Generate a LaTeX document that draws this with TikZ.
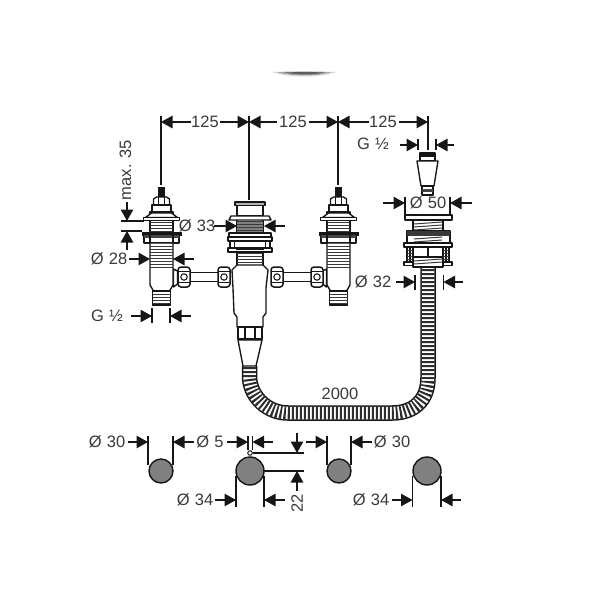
\documentclass[tikz,border=0pt]{standalone}
\usepackage{fontspec}
\setmainfont{Liberation Sans}
\usetikzlibrary{arrows.meta}
\definecolor{ink}{HTML}{161616}
\definecolor{label}{HTML}{3A3A3A}
\definecolor{disc}{HTML}{808080}
\tikzset{
  dim/.style={line width=1.05pt,draw=ink,-{Triangle[length=11.5pt,width=12.5pt]}},
  ext/.style={line width=1.05pt,draw=ink},
  lbl/.style={text=label,font=\fontsize{16.5}{16.5}\selectfont,inner sep=0pt},
  part/.style={line width=1.35pt,draw=ink,fill=white,line join=round},
  rib/.style={line width=1pt,draw=ink!85},
  blk/.style={line width=.8pt,draw=ink,fill=ink},
  plug/.style={line width=1.4pt,draw=ink,fill=disc},
}
\newcommand\dimar[3]{\coordinate (#1a) at (#2);\coordinate (#1b) at (#3);\draw[dim] (#1a) -- (#1b);}
\newcommand\extl[3]{\coordinate (#1a) at (#2);\coordinate (#1b) at (#3);\draw[ext] (#1a) -- (#1b);}
\newcommand\ribs[5]{\foreach \yy in {#3,#4,...,#5}{\draw[rib] (#1,\yy) -- (#2,\yy);}}
\newcommand\dia[1]{Ø\hspace{.32em}#1}
% one side valve, centred on x=0, with y absolute; tube stub toward +x
\newcommand\sidevalve{%
  \fill[ink] (-3.5,187) rectangle (3.5,197);
  \draw[part] (-8,205) -- (-8,199) -- (-5,197) -- (5,197) -- (8,199) -- (8,205) -- cycle;
  \draw[ext] (-3,197) -- (-3,205) (3,197) -- (3,205);
  \draw[part] (-9.5,205) rectangle (9.5,212);
  \draw[part] (-11.5,212) rectangle (11.5,232);
  \ribs{-11.5}{11.5}{222}{225}{231}
  \draw[part] (-16,217.5) -- (-10,213) -- (10,213) -- (16,217.5) -- cycle;
  \draw[part] (-18,217.5) rectangle (18,220.5);
  \draw[blk] (-19.5,232) rectangle (19.5,235);
  \draw[part] (-17.5,235) rectangle (17.5,243);
  \fill[ink!80] (-17.5,235) rectangle (17.5,237.5);
  \draw[ext] (-11.5,235) -- (-11.5,243) (11.5,235) -- (11.5,243);
  \draw[part] (12,269) -- (16,271) -- (16,284) -- (12,287) -- cycle;
  \draw[part] (-11.5,243) -- (-11.5,285) -- (-8,291) -- (8,291) -- (11.5,285) -- (11.5,243) -- cycle;
  \ribs{-11.5}{11.5}{246}{249}{267}
  \draw[part] (-9,291) rectangle (9,305);
  \ribs{-9}{9}{294}{297}{303}
}
% hex union nut
\newcommand\unionnut[1]{%
  \draw[part,line width=1.5pt,rounded corners=3pt] (#1-6,267) rectangle (#1+6,287);
  \draw[ext] (#1-6,271.5) -- (#1+6,271.5) (#1-6,282.5) -- (#1+6,282.5);
  \draw[ext] (#1,277) circle (3.2);
}
\begin{document}
\begin{tikzpicture}[x=1pt,y=-1pt]
\useasboundingbox (0,0) rectangle (600,600);
\fill[white] (0,0) rectangle (600,600);

% blurred smudge at the top
\fill[gray!30] (272,72) .. controls (295,71) and (315,71) .. (336,72) .. controls (320,78) and (290,78) .. (272,72) -- cycle;
\fill[gray!70] (277,72.3) .. controls (295,71.5) and (315,71.5) .. (331,72.3) .. controls (318,76.5) and (292,76.5) .. (277,72.3) -- cycle;
\fill[ink!70] (285,72.5) .. controls (295,72) and (315,72) .. (324,72.5) .. controls (315,75) and (295,75) .. (285,72.5) -- cycle;

% hose
\coordinate (hoseA) at (428,265);
\coordinate (hoseB) at (249.5,366);
\def\hosepath{(hoseA) -- (428,378) .. controls (428,400) and (414,413) .. (392,413) -- (288,413) .. controls (268,413) and (251,398) .. (249.5,378) -- (hoseB)}
\draw[ink,line width=15.5pt] \hosepath;
\draw[white,line width=12.5pt] \hosepath;
\draw[ink!90,line width=13pt,dash pattern=on 2pt off 2pt] \hosepath;

% connecting pipes
\draw[part] (188,272.5) rectangle (220,281.5);
\draw[part] (280,272.5) rectangle (314,281.5);

% left and right valves
\begin{scope}[shift={(161.5,0)}]\sidevalve\end{scope}
\begin{scope}[shift={(338.5,0)},xscale=-1]\sidevalve\end{scope}

% centre valve
\draw[part] (237,250) rectangle (263,266);
\ribs{237}{263}{253}{256}{265}
\draw[part] (237,265) -- (232,270) -- (233,288) -- (234,313) -- (237,317) -- (237,327) -- (263,327) -- (263,317) -- (266,313) -- (266,288) -- (268,270) -- (263,265) -- cycle;
\draw[part] (237,205) rectangle (263,216);
\draw[part,fill=disc!60] (235,202) rectangle (265,205.5);
\draw[part] (237,216) rectangle (263,236);
\fill[disc] (237,222) rectangle (263,234);
\ribs{237}{263}{221}{224}{235}
\draw[part] (231,216) -- (269,216) -- (271,220) -- (229,220) -- cycle;
\draw[part] (229,233) rectangle (271,237);
\draw[part] (228,237) rectangle (272,241);
\draw[part] (230,241) rectangle (234.5,250);
\draw[part] (265.5,241) rectangle (270,250);
\draw[part] (228,248) rectangle (272,252);
\fill[ink] (236,248) rectangle (264,250);
\draw[part] (238,327) rectangle (262,339);
\draw[ext] (245,327) -- (245,339) (255,327) -- (255,339);
\draw[part] (238,340) -- (262,340) -- (256,366) -- (243,366) -- cycle;

% union nuts
\unionnut{184}
\unionnut{224}
\unionnut{277}
\unionnut{317}

% right fitting
\draw[part] (420,153) rectangle (435,161);
\fill[ink] (420,153) rectangle (435,156.5);
\draw[part] (417,161) -- (438,161) -- (434,186) -- (421,186) -- cycle;
\draw[part] (422,186) rectangle (433,195);
\fill[ink!80] (422,189) rectangle (433,192);
\draw[part] (413,220) rectangle (443,232);
\foreach \yy in {223,226,229}{\draw[rib] (414,\yy+1) -- (442,\yy-1);}
\draw[part] (405,215) rectangle (452,220);
\draw[part] (407,231) rectangle (450,243);
\fill[ink!85] (407,231) rectangle (450,236);
\foreach \yy in {238,241}{\draw[rib] (414,\yy+1) -- (442,\yy-1);}
\draw[part] (413,247) rectangle (443,258);
\draw[ext] (428,247) -- (428,257);
\draw[part] (413,257) rectangle (443,267);
\foreach \yy in {260,263}{\draw[rib] (414,\yy+1) -- (442,\yy-1);}
\draw[part] (407,247) rectangle (413,263);
\draw[part] (443,247) rectangle (449,263);
\draw[ext] (410,247) -- (410,263) (446,247) -- (446,263);
\foreach \yy in {250,253,256,259}{\draw[rib] (407,\yy) -- (413,\yy) (443,\yy) -- (449,\yy);}
\draw[part] (404,262) rectangle (413,265.5);
\draw[part] (443,262) rectangle (452,265.5);
\draw[part] (404,243) rectangle (452,247);

% top dimension chain
\extl{ea}{161,116}{161,185}
\extl{eb}{249,116}{249,200}
\extl{ec}{338,116}{338,185}
\extl{ed}{428,116}{428,150}
\node[lbl] (t1) at (205,122) {125};
\node[lbl] (t2) at (293,122) {125};
\node[lbl] (t3) at (383,122) {125};
\dimar{a1}{191,122}{161,122}
\dimar{a2}{220,122}{249,122}
\dimar{a3}{277,122}{249,122}
\dimar{a4}{309,122}{338,122}
\dimar{a5}{369,122}{338,122}
\dimar{a6}{399,122}{428,122}

% G 1/2 top
\node[lbl] (g1) at (373,144) {G\hspace{.32em}½};
\extl{eg1}{418,139}{418,150}
\extl{eg2}{436,139}{436,150}
\dimar{g1l}{400,145}{418,145}
\dimar{g1r}{454,145}{436,145}

% dia 50
\node[lbl] (d50) at (428,203) {\dia{50}};
\extl{e50l}{405,197}{405,215}
\extl{e50r}{450,197}{450,215}
\dimar{d50l}{383,203}{405,203}
\dimar{d50r}{472,203}{450,203}

% dia 32
\node[lbl] (d32) at (373,282) {\dia{32}};
\extl{e32l}{415,275}{415,290}
\extl{e32r}{443.5,275}{443.5,290}
\dimar{d32l}{396,282}{415,282}
\dimar{d32r}{463,282}{443.5,282}

% max 35
\node[lbl,rotate=90] (m35) at (125.5,170) {max. 35};
\extl{em1}{121,221}{144,221}
\extl{em2}{121,231}{142,231}
\dimar{m1}{127,202}{127,221}
\dimar{m2}{127,250}{127,231}

% dia 33
\node[lbl] (d33) at (197,226) {\dia{33}};
\dimar{d33l}{214,226}{237,226}
\dimar{d33r}{285,226}{264,226}

% dia 28
\node[lbl] (d28) at (109,259) {\dia{28}};
\dimar{d28l}{129,259}{150,259}
\dimar{d28r}{194,259}{173,259}

% G 1/2 left
\node[lbl] (g2) at (107,316) {G\hspace{.32em}½};
\extl{eg3}{152,308}{152,323}
\extl{eg4}{170,308}{170,323}
\dimar{g2l}{131,316}{152,316}
\dimar{g2r}{191,316}{170,316}

% hose length
\node[lbl] (len) at (340,394) {2000};

% bottom row
\extl{e30a}{148,436}{148,465}
\extl{e30b}{173,436}{173,465}
\extl{e5a}{248,436}{248,450}
\extl{e5b}{252.5,436}{252.5,450}
\extl{e34a}{236,476}{236,507}
\extl{e34b}{264,476}{264,507}
\extl{e30c}{327,436}{327,465}
\extl{e30d}{351,436}{351,465}
\extl{e34c}{412.5,476}{412.5,507}
\extl{e34d}{441,476}{441,507}
\extl{e22a}{253,453}{304,453}
\extl{e22b}{264,471}{304,471}
\node[plug,circle,minimum size=24pt,inner sep=0pt] (c1) at (161,471) {};
\node[plug,circle,minimum size=28pt,inner sep=0pt] (c2) at (250,471) {};
\node[plug,circle,minimum size=24pt,inner sep=0pt] (c3) at (339,471) {};
\node[plug,circle,minimum size=28pt,inner sep=0pt] (c4) at (427,471) {};
\node[draw=ink,line width=1pt,circle,minimum size=4.5pt,inner sep=0pt] (hole) at (250,453) {};

\node[lbl] (d30a) at (107,442) {\dia{30}};
\dimar{d1}{128,442}{148,442}
\dimar{d2}{194,442}{173,442}
\node[lbl] (d5) at (210,442) {\dia{5}};
\dimar{d3}{227,442}{248,442}
\dimar{d4}{273,442}{252.5,442}
\node[lbl] (d34a) at (195,500) {\dia{34}};
\dimar{d5a}{215,500}{236,500}
\dimar{d6}{285,500}{264,500}
\dimar{d7}{297,433}{297,453}
\dimar{d8}{297,491}{297,471}
\node[lbl,rotate=90] (d22) at (297,503) {22};
\dimar{d9}{306,442}{327,442}
\dimar{d10}{372,442}{351,442}
\node[lbl] (d30b) at (392,442) {\dia{30}};
\node[lbl] (d34b) at (371,500) {\dia{34}};
\dimar{d11}{392,500}{412.5,500}
\dimar{d12}{461,500}{441,500}
\end{tikzpicture}
\end{document}
